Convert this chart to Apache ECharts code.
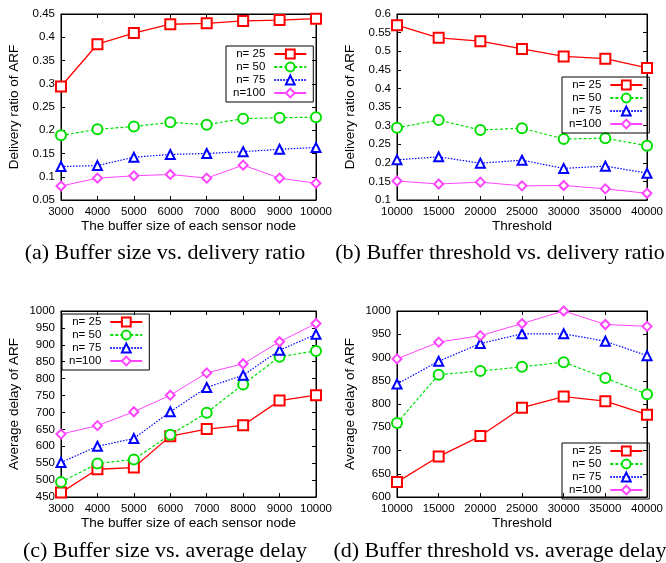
<!DOCTYPE html>
<html>
<head>
<meta charset="utf-8">
<script src="https://cdn.jsdelivr.net/npm/echarts@6/dist/echarts.min.js"></script>
<style>
  html, body { margin: 0; padding: 0; background: #fff; }
  #chart { width: 666px; height: 563px; }
</style>
</head>
<body>
<div id="chart"></div>
<script>
// x values
const bufferSizes = [3000, 4000, 5000, 6000, 7000, 8000, 9000, 10000]
const thresholds = [10000, 15000, 20000, 25000, 30000, 35000, 40000]
const seriesNames = ['n= 25', 'n= 50', 'n= 75', 'n=100']

// (a) buffer size vs. delivery ratio
const ratioBySize25 = [0.294, 0.385, 0.409, 0.428, 0.430, 0.435, 0.437, 0.440]
const ratioBySize50 = [0.189, 0.202, 0.208, 0.217, 0.212, 0.225, 0.227, 0.228]
const ratioBySize75 = [0.122, 0.124, 0.142, 0.148, 0.150, 0.154, 0.159, 0.163]
const ratioBySize100 = [0.080, 0.097, 0.102, 0.105, 0.097, 0.125, 0.097, 0.086]

// (b) threshold vs. delivery ratio
const ratioByThr25 = [0.570, 0.536, 0.527, 0.506, 0.486, 0.480, 0.455]
const ratioByThr50 = [0.294, 0.315, 0.288, 0.293, 0.264, 0.266, 0.246]
const ratioByThr75 = [0.208, 0.216, 0.199, 0.207, 0.185, 0.191, 0.172]
const ratioByThr100 = [0.151, 0.143, 0.148, 0.138, 0.139, 0.130, 0.118]

// (c) buffer size vs. average delay
const delayBySize25 = [463, 532, 537, 630, 651, 662, 735, 751]
const delayBySize50 = [494, 549, 561, 634, 699, 783, 865, 882]
const delayBySize75 = [552, 600, 623, 702, 774, 810, 884, 931]
const delayBySize100 = [636, 661, 702, 751, 817, 844, 909, 963]

// (d) threshold vs. average delay
const delayByThr25 = [632, 687, 731, 792, 816, 806, 777]
const delayByThr50 = [759, 863, 871, 880, 890, 856, 821]
const delayByThr75 = [843, 892, 930, 951, 951, 935, 904]
const delayByThr100 = [897, 933, 947, 973, 1000, 971, 967]

const captions = [
  '(a) Buffer size vs. delivery ratio',
  '(b) Buffer threshold vs. delivery ratio',
  '(c) Buffer size vs. average delay',
  '(d) Buffer threshold vs. average delay'
]

const FONT = '"Liberation Sans", Arial, sans-serif'

const styles = [
  { color: '#ff0000', symbol: 'emptyRect', size: 10, type: 'solid', width: 1.3 },
  { color: '#00e000', symbol: 'emptyCircle', size: 10, type: [3, 2], width: 1.2 },
  { color: '#0000ff', symbol: 'emptyTriangle', size: 9, type: [1.5, 1.5], width: 1.2 },
  { color: '#ff44ff', symbol: 'emptyDiamond', size: 9, type: 'solid', width: 1 }
]

const panels = [
  { xs: bufferSizes, ys: [ratioBySize25, ratioBySize50, ratioBySize75, ratioBySize100],
    left: 61, top: 14, xmin: 3000, xmax: 10000, xint: 1000, ymin: 0.05, ymax: 0.45, yint: 0.05,
    xname: 'The buffer size of each sensor node', yname: 'Delivery ratio of ARF',
    legend: { left: 226, top: 46 } },
  { xs: thresholds, ys: [ratioByThr25, ratioByThr50, ratioByThr75, ratioByThr100],
    left: 397, top: 14, xmin: 10000, xmax: 40000, xint: 5000, ymin: 0.1, ymax: 0.6, yint: 0.05,
    xname: 'Threshold', yname: 'Delivery ratio of ARF',
    legend: { left: 562, top: 77 } },
  { xs: bufferSizes, ys: [delayBySize25, delayBySize50, delayBySize75, delayBySize100],
    left: 61, top: 311, xmin: 3000, xmax: 10000, xint: 1000, ymin: 450, ymax: 1000, yint: 50,
    xname: 'The buffer size of each sensor node', yname: 'Average delay of ARF',
    legend: { left: 62, top: 314 } },
  { xs: thresholds, ys: [delayByThr25, delayByThr50, delayByThr75, delayByThr100],
    left: 397, top: 311, xmin: 10000, xmax: 40000, xint: 5000, ymin: 600, ymax: 1000, yint: 50,
    xname: 'Threshold', yname: 'Average delay of ARF',
    legend: { left: 562, top: 443 } }
]

const grid = [], xAxis = [], yAxis = [], series = [], legend = [], graphic = []
const tick = { show: true, inside: true, length: 4, lineStyle: { color: '#000' } }
const line = { show: true, onZero: false, lineStyle: { color: '#000', width: 1 } }
const labelStyle = { color: '#000', fontFamily: FONT, fontSize: 11.5, margin: 6 }
const nameStyle = { color: '#000', fontFamily: FONT, fontSize: 13.5 }

panels.forEach((p, i) => {
  grid.push({ left: p.left, top: p.top, width: 255, height: 186, show: true, borderColor: '#000', borderWidth: 1 })
  // bottom/left axes with labels
  xAxis.push({
    type: 'value', gridIndex: i, min: p.xmin, max: p.xmax, interval: p.xint,
    axisLine: line, axisTick: tick, splitLine: { show: false },
    axisLabel: { ...labelStyle, formatter: v => String(v) },
    name: p.xname, nameLocation: 'middle', nameGap: 15, nameTextStyle: nameStyle
  })
  yAxis.push({
    type: 'value', gridIndex: i, min: p.ymin, max: p.ymax, interval: p.yint,
    axisLine: line, axisTick: tick, splitLine: { show: false },
    axisLabel: { ...labelStyle, formatter: v => String(+v.toFixed(2)) },
    name: p.yname, nameLocation: 'middle', nameGap: 40, nameTextStyle: nameStyle
  })
  // mirrored ticks on top/right
  xAxis.push({
    type: 'value', gridIndex: i, position: 'top', min: p.xmin, max: p.xmax, interval: p.xint,
    axisLine: line, axisTick: tick, axisLabel: { show: false }, splitLine: { show: false }
  })
  yAxis.push({
    type: 'value', gridIndex: i, position: 'right', min: p.ymin, max: p.ymax, interval: p.yint,
    axisLine: line, axisTick: tick, axisLabel: { show: false }, splitLine: { show: false }
  })

  p.ys.forEach((vals, k) => {
    const s = styles[k]
    series.push({
      name: seriesNames[k], type: 'line',
      xAxisIndex: i * 2, yAxisIndex: i * 2,
      data: p.xs.map((x, j) => [x, vals[j]]),
      symbol: s.symbol, symbolSize: s.size,
      itemStyle: { color: s.color, borderWidth: 1.3 },
      lineStyle: { color: s.color, type: s.type, width: s.width },
      animation: false
    })
  })

  legend.push({
    left: p.legend.left, top: p.legend.top, orient: 'vertical', align: 'right',
    data: seriesNames, itemWidth: 32, itemHeight: 11, itemGap: 1,
    padding: [2, 6, 3, 7], borderColor: '#000', borderWidth: 1, borderRadius: 0,
    textStyle: { color: '#000', fontFamily: FONT, fontSize: 11.5, lineHeight: 11, width: 31, align: 'right', padding: [0, 4, 0, 0] },
    selectedMode: false
  })

  graphic.push({
    type: 'text',
    style: {
      x: i % 2 === 0 ? 165 : 500, y: i < 2 ? 242 : 540,
      text: captions[i], font: '22px "Liberation Serif", "Times New Roman", serif',
      fill: '#000', align: 'center', verticalAlign: 'top'
    }
  })
})

const chart = echarts.init(document.getElementById('chart'), null, { renderer: 'canvas' })
chart.setOption({ animation: false, grid, xAxis, yAxis, series, legend, graphic })
</script>
</body>
</html>
